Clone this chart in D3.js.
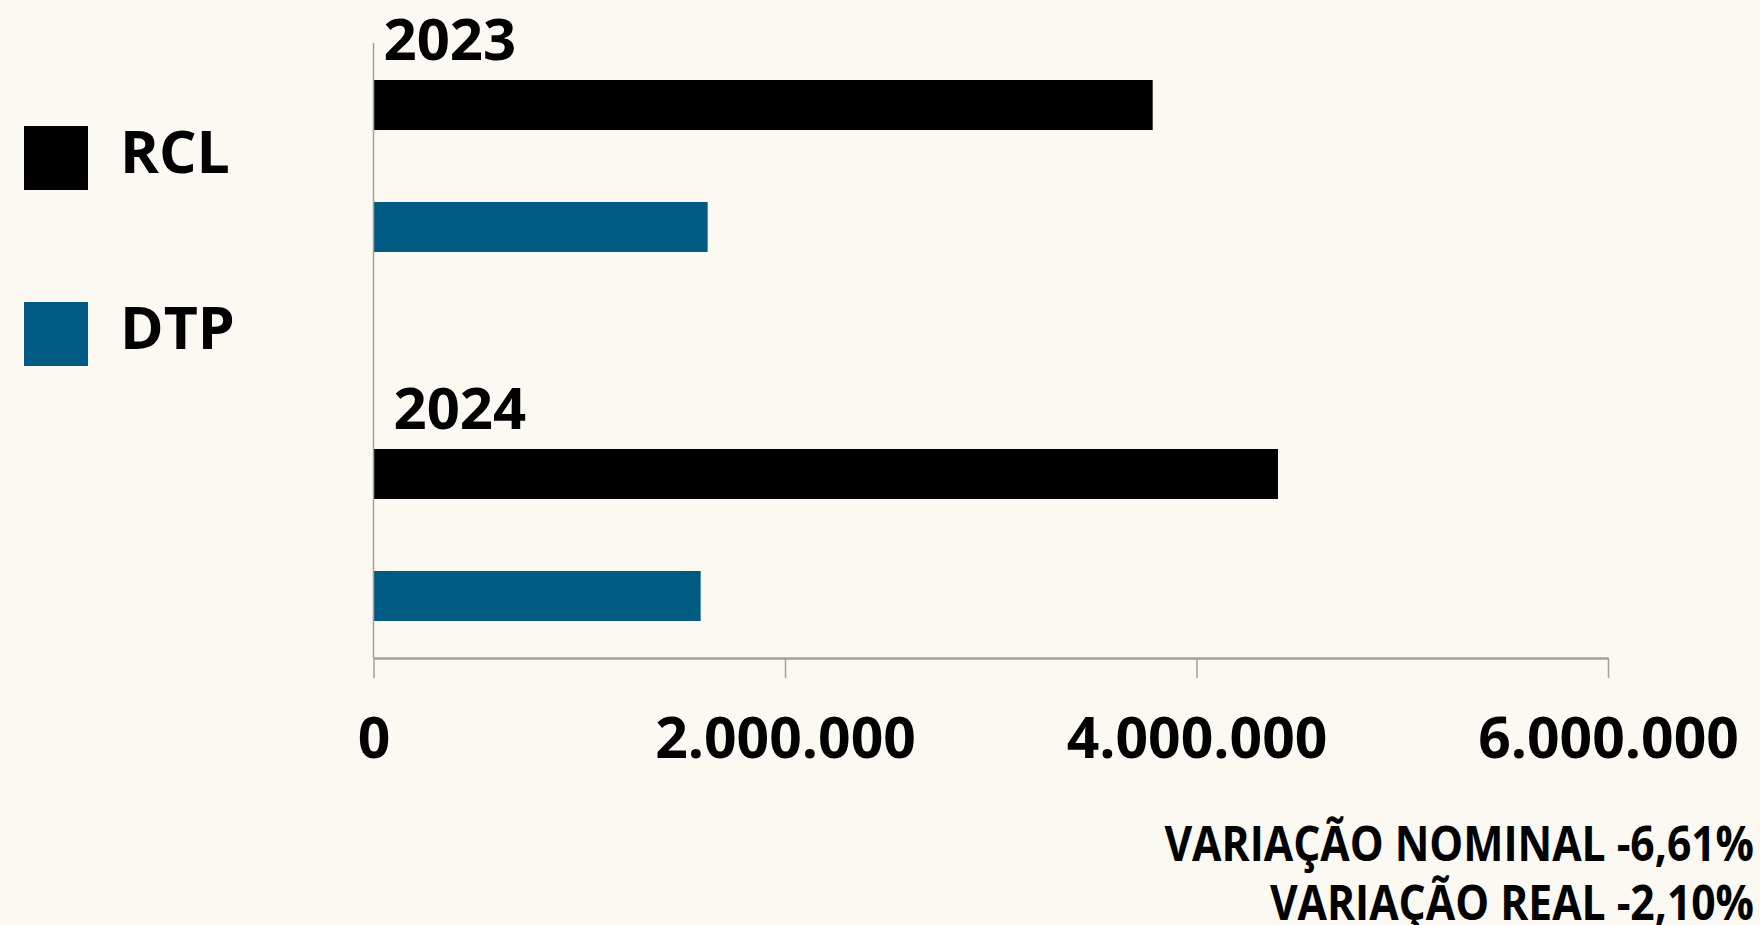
<!DOCTYPE html>
<html>
<head>
    <meta charset="utf-8">
    <style>
        body {
            margin: 0;
            background-color: #fbf9f2;
        }
        svg {
            display: block;
            font-family: "Open Sans", sans-serif;
            font-weight: 700;
        }
    </style>
</head>

<body>
    <svg width="1760" height="925"></svg>
</body>

<script src="https://d3js.org/d3.v7.min.js"></script>

<script>
    // data
    let years = ["2023", "2024"]
    let series = ["RCL", "DTP"]
    let rcl = [3787000, 4396000]
    let dtp = [1624000, 1590000]
    let colors = ["#000000", "#005a82"]
    let tickValues = [0, 2000000, 4000000, 6000000]
    let notes = ["VARIAÇÃO NOMINAL -6,61%", "VARIAÇÃO REAL -2,10%"]

    let width = 1760
    let height = 925

    let svg = d3.select("svg")

    let rows = years.map((yr, i) => ({ year: yr, values: [rcl[i], dtp[i]] }))

    let x = d3.scaleLinear()
        .domain([0, 6000000])
        .range([373.5, 1608])

    let y0 = d3.scaleBand()
        .domain(years)
        .range([80, 80 + 369 * 2])

    let y1 = d3.scaleBand()
        .domain(series)
        .range([0, 172])
        .paddingInner(0.59)

    let color = d3.scaleOrdinal()
        .domain(series)
        .range(colors)

    let br = d3.formatLocale({ decimal: ",", thousands: ".", grouping: [3], currency: ["R$", ""] })

    // bars
    let groups = svg.append("g")
        .selectAll("g")
        .data(rows)
        .join("g")
        .attr("transform", d => `translate(0,${y0(d.year)})`)

    groups.selectAll("rect")
        .data(d => d.values.map((v, j) => ({ key: series[j], value: v })))
        .join("rect")
        .attr("x", x(0))
        .attr("y", d => y1(d.key))
        .attr("width", d => x(d.value) - x(0))
        .attr("height", y1.bandwidth())
        .style("fill", d => color(d.key))

    groups.append("text")
        .attr("x", (d, i) => x(0) + 10 + i * 10)
        .attr("y", -20)
        .style("font-size", "58px")
        .style("fill", "#000")
        .text(d => d.year)

    // vertical axis line
    svg.append("line")
        .attr("x1", x(0))
        .attr("x2", x(0))
        .attr("y1", 43)
        .attr("y2", 658)
        .style("stroke", "#a0a0a0")
        .style("stroke-width", 1.5)

    // x axis
    let xAxis = svg.append("g")
        .attr("transform", "translate(0,658)")
        .call(d3.axisBottom(x)
            .tickValues(tickValues)
            .tickSize(20)
            .tickSizeOuter(0)
            .tickFormat(br.format(",")))

    xAxis.select(".domain")
        .style("stroke", "#a0a0a0")
        .style("stroke-width", 2.5)

    xAxis.selectAll(".tick line")
        .style("stroke", "#a0a0a0")
        .style("stroke-width", 1.5)

    xAxis.selectAll(".tick text")
        .attr("y", 100)
        .attr("dy", 0)
        .style("font-size", "57px")
        .style("font-family", "'Open Sans', sans-serif")
        .style("font-weight", 700)
        .style("fill", "#000")

    // legend
    let legend = svg.append("g")
        .selectAll("g")
        .data(series)
        .join("g")
        .attr("transform", (d, i) => `translate(24,${126 + i * 176})`)

    legend.append("rect")
        .attr("width", 64)
        .attr("height", 64)
        .style("fill", d => color(d))

    legend.append("text")
        .attr("x", 96)
        .attr("y", 47)
        .style("font-size", "59px")
        .style("fill", "#000")
        .text(d => d)

    // notes bottom right (glyphs a bit condensed in the original)
    svg.append("g")
        .selectAll("text")
        .data(notes)
        .join("text")
        .attr("transform", (d, i) => `translate(1754,${861 + i * 59}) scale(0.888,1)`)
        .attr("text-anchor", "end")
        .style("font-size", "48px")
        .style("fill", "#000")
        .text(d => d)
</script>
</html>
